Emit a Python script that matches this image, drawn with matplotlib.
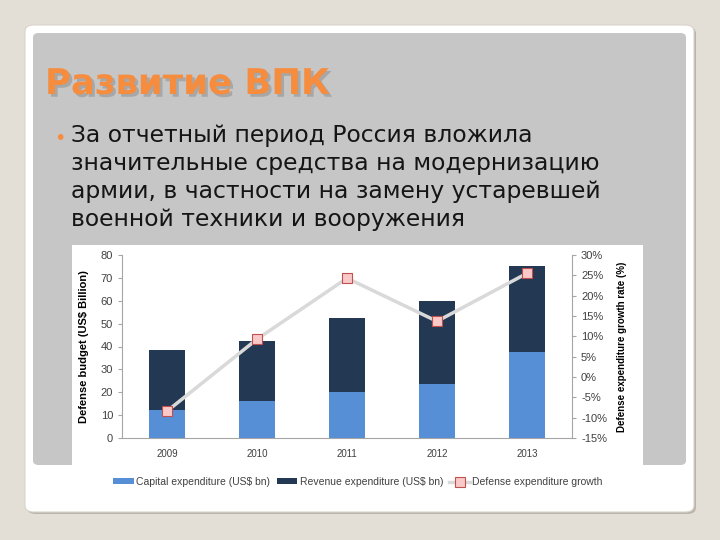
import matplotlib
matplotlib.use('Agg')
from matplotlib import pyplot as plt
from matplotlib.patches import FancyBboxPatch, Patch
from matplotlib.lines import Line2D
from matplotlib.ticker import FuncFormatter
import matplotlib.patheffects as pe
import numpy as np

years = ['2009', '2010', '2011', '2012', '2013']
capital = [12.3, 16.3, 20.0, 23.6, 37.6]
revenue = [26.2, 25.9, 32.5, 36.3, 37.4]
growth = [-8.4, 9.3, 24.3, 13.7, 25.5]

title = 'Развитие ВПК'
bullet = ('За отчетный период Россия вложила\n'
          'значительные средства на модернизацию\n'
          'армии, в частности на замену устаревшей\n'
          'военной техники и вооружения')

W, H = 720, 540
fig = plt.figure(figsize=(7.2, 5.4), dpi=100)
fig.patch.set_facecolor('#e4dfd6')

def px(x, y):
    return x / W, 1 - y / H

def box(x0, y0, x1, y1, **kw):
    bx, by = px(x0, y1)
    return FancyBboxPatch((bx, by), (x1 - x0) / W, (y1 - y0) / H,
                          transform=fig.transFigure, zorder=-5, **kw)

# slide card, gray panel, chart area
fig.patches.append(box(27, 27, 696, 514, boxstyle='round,pad=0,rounding_size=0.012',
                       facecolor='#b9b4ac', edgecolor='none'))
fig.patches.append(box(25, 25, 694, 512, boxstyle='round,pad=0,rounding_size=0.012',
                       facecolor='white', edgecolor='#d8d4cc', lw=0.8))
fig.patches.append(box(33, 33, 686, 465, boxstyle='round,pad=0,rounding_size=0.008',
                       facecolor='#c6c6c6', edgecolor='none'))
fig.patches.append(box(72, 245, 643, 506, boxstyle='square,pad=0',
                       facecolor='white', edgecolor='none'))

# title with shadow
tx, ty = px(45, 84)
fig.text(tx, ty, title, fontsize=25.5, fontweight='bold', color='#f68c3e',
         va='center', ha='left', family='DejaVu Sans',
         path_effects=[pe.SimplePatchShadow(offset=(2, -2), shadow_rgbFace='#8a8a8a', alpha=0.5),
                       pe.Normal()])

# bullet
bx, by = px(60, 138)
fig.text(bx, by, '•', fontsize=14, color='#f68c3e', ha='center', va='center')
lx, ly = px(71, 124)
fig.text(lx, ly, bullet, fontsize=16.9, color='#151515', ha='left', va='top',
         family='DejaVu Sans', linespacing=1.27)

# chart
x0, y0 = px(122, 438)
x1, y1 = px(572, 255)
ax = fig.add_axes([x0, y0, x1 - x0, y1 - y0])
ax.set_facecolor('none')
x = np.arange(len(years))
ax.bar(x, capital, 0.4, color='#568fd6', zorder=2)
ax.bar(x, revenue, 0.4, bottom=capital, color='#233853', zorder=2)
ax.set_xlim(-0.5, 4.5)
ax.set_ylim(0, 80)
ax.set_yticks(range(0, 81, 10))
ax.set_xticks(x)
ax.set_xticklabels(years)
for s in ['top', 'right']:
    ax.spines[s].set_visible(False)
for s in ['left', 'bottom']:
    ax.spines[s].set_color('#a6a6a6')
ax.tick_params(axis='y', labelsize=8, colors='#a6a6a6', labelcolor='#404040', length=3)
ax.tick_params(axis='x', labelsize=7, length=0, labelcolor='#404040', pad=8)
ax.set_ylabel('Defense budget (US$ Billion)', fontsize=8, fontweight='bold',
              family='Liberation Sans', labelpad=8)
for t in ax.get_yticklabels() + ax.get_xticklabels():
    t.set_family('Liberation Sans')

ax2 = ax.twinx()
ax2.plot(x, growth, color='#d9d9d9', lw=2.5, marker='s', ms=7,
         mfc='#f9c9c9', mec='#c0504d', mew=0.8, zorder=3)
ax2.set_ylim(-15, 30)
ax2.set_yticks(range(-15, 31, 5))
ax2.yaxis.set_major_formatter(FuncFormatter(lambda v, p: '%d%%' % v))
for s in ['top', 'left', 'bottom']:
    ax2.spines[s].set_visible(False)
ax2.spines['right'].set_color('#a6a6a6')
ax2.tick_params(axis='y', labelsize=8, colors='#a6a6a6', labelcolor='#404040', length=3)
for t in ax2.get_yticklabels():
    t.set_family('Liberation Sans')
ax2.set_ylabel('Defense expenditure growth rate (%)', fontsize=7, fontweight='bold',
               family='Liberation Sans', labelpad=7)

handles = [Patch(facecolor='#568fd6'), Patch(facecolor='#233853'),
           Line2D([], [], color='#d9d9d9', lw=2.5, marker='s', ms=7,
                  mfc='#f9c9c9', mec='#c0504d', mew=0.8)]
labels = ['Capital expenditure (US$ bn)', 'Revenue expenditure (US$ bn)',
          'Defense expenditure growth']
lgx, lgy = px(358, 482)
fig.legend(handles, labels, loc='center', bbox_to_anchor=(lgx, lgy), ncol=3,
           frameon=False, prop={'family': 'Liberation Sans', 'size': 7.5},
           handlelength=2.0, handleheight=0.5, handletextpad=0.2, columnspacing=0.6,
           labelcolor='#404040')

fig.savefig('out.png', dpi=100, facecolor=fig.get_facecolor())
